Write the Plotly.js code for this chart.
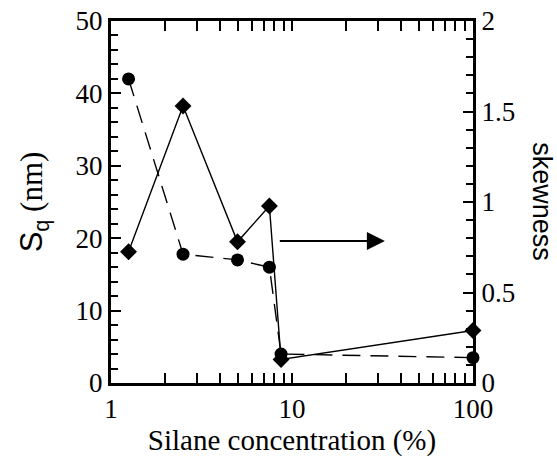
<!DOCTYPE html>
<html>
<head>
<meta charset="utf-8">
<script src="https://cdn.plot.ly/plotly-3.0.1.min.js"></script>
<style>
.xtick text, .ytick text, .y2tick text, text.xtitle, text.ytitle {
  font-family: "Liberation Serif", serif !important;
}
</style>
</head>
<body style="margin:0">
<div id="chart"></div>
<script>
// Silane concentration (%)
const concentration = [1.25, 2.5, 5, 7.5, 8.7, 100];
// Sq (nm), left axis, circles, dashed line
const sqValues = [42.0, 17.8, 17.0, 16.0, 4.0, 3.5];
// skewness, right axis, diamonds, solid line
const skewValues = [0.725, 1.53, 0.78, 0.978, 0.13, 0.29];
// arrow pointing to the right axis (start/end concentration, Sq level)
const arrowConc = [8.4, 32.6];
const arrowLevel = 19.6;

const xTickVals = [1, 10, 100];
const xTickText = ['1', '10', '100'];
const xMinor = [2, 3, 4, 5, 6, 7, 8, 9, 20, 30, 40, 50, 60, 70, 80, 90];

const serif = 'Liberation Serif';
const sans = 'Liberation Sans';

const traces = [
  {
    x: concentration, y: sqValues, type: 'scatter', mode: 'lines+markers',
    name: 'Sq', yaxis: 'y', cliponaxis: false,
    line: {color: '#000', width: 1.4, dash: '18px,10px'},
    marker: {symbol: 'circle', size: 13, color: '#000'}
  },
  {
    x: concentration, y: skewValues, type: 'scatter', mode: 'lines+markers',
    name: 'skewness', yaxis: 'y2', cliponaxis: false,
    line: {color: '#000', width: 1.4},
    marker: {symbol: 'diamond', size: 13, color: '#000'}
  }
];

const layout = {
  width: 557, height: 463,
  margin: {l: 111, r: 84, t: 21, b: 80},
  showlegend: false,
  font: {family: serif, color: '#000', size: 27},
  xaxis: {
    type: 'log', range: [0, 2],
    tickmode: 'array', tickvals: xTickVals, ticktext: xTickText,
    ticks: 'inside', ticklen: 10, tickwidth: 2, tickcolor: '#000',
    minor: {tickmode: 'array', tickvals: xMinor, ticks: 'inside', ticklen: 7, tickwidth: 2, tickcolor: '#000'},
    showline: true, linewidth: 3, linecolor: '#000', mirror: 'allticks',
    showgrid: false, zeroline: false,
    tickfont: {family: serif, size: 27, color: '#000'},
    title: {text: 'Silane concentration (%)', font: {family: serif, size: 29, color: '#000'}, standoff: 6}
  },
  yaxis: {
    range: [0, 50], dtick: 10, tick0: 0,
    ticks: 'inside', ticklen: 10, tickwidth: 2, tickcolor: '#000',
    minor: {dtick: 2, ticks: 'inside', ticklen: 7, tickwidth: 2, tickcolor: '#000'},
    showline: true, linewidth: 3, linecolor: '#000',
    showgrid: false, zeroline: false,
    tickfont: {family: serif, size: 27, color: '#000'},
    title: {text: '<span style="font-family:Liberation Sans">S<sub>q</sub></span> (nm)', font: {family: serif, size: 31, color: '#000'}, standoff: 24}
  },
  yaxis2: {
    overlaying: 'y', side: 'right',
    range: [0, 2], dtick: 0.5, tick0: 0,
    ticks: 'inside', ticklen: 10, tickwidth: 2, tickcolor: '#000',
    minor: {dtick: 0.1, ticks: 'inside', ticklen: 7, tickwidth: 2, tickcolor: '#000'},
    showline: true, linewidth: 3, linecolor: '#000',
    showgrid: false, zeroline: false,
    tickfont: {family: serif, size: 27, color: '#000'}
  },
  annotations: [
    {
      xref: 'x', yref: 'y', axref: 'x', ayref: 'y',
      x: Math.log10(arrowConc[1]), y: arrowLevel,
      ax: Math.log10(arrowConc[0]), ay: arrowLevel,
      text: '', showarrow: true, arrowhead: 2, arrowsize: 1.8, arrowwidth: 2, arrowcolor: '#000',
      standoff: 0, startstandoff: 0
    },
    {
      xref: 'paper', yref: 'paper', x: 1.19, y: 0.5,
      text: 'skewness', showarrow: false, textangle: 90,
      font: {family: sans, size: 27, color: '#000'},
      xanchor: 'center', yanchor: 'middle'
    }
  ]
};

Plotly.newPlot('chart', traces, layout, {staticPlot: true});
</script>
</body>
</html>
